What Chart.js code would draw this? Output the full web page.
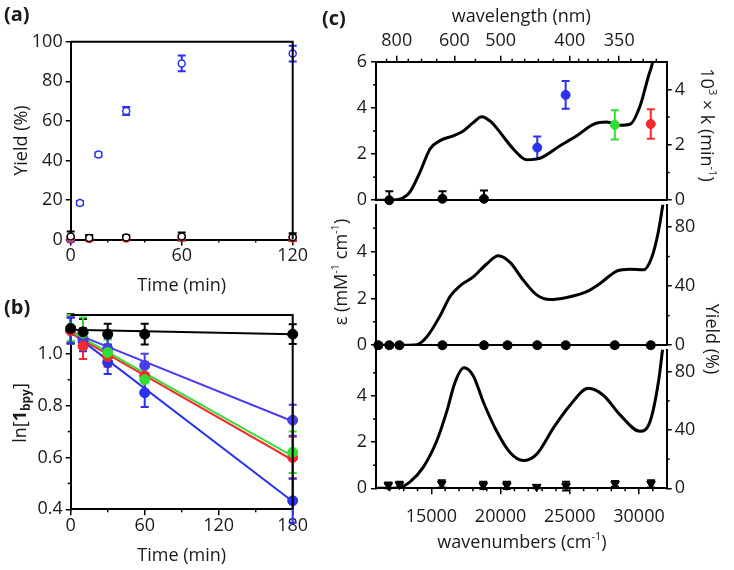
<!DOCTYPE html>
<html>
<head>
<meta charset="utf-8">
<script src="https://cdn.jsdelivr.net/npm/chart.js@4.4.0/dist/chart.umd.min.js"></script>
<style>
  body { margin: 0; background: #fff; width: 734px; height: 570px; position: relative; overflow: hidden; font-family: "Open Sans", sans-serif; color: #1a1a1a; }
  canvas { position: absolute; }
  .lbl { position: absolute; font-weight: bold; font-size: 20px; line-height: 1; }
  .rot { position: absolute; white-space: nowrap; font-size: 18px; line-height: 1; transform: translate(-50%, -50%) rotate(-90deg); }
  .rot.r { transform: translate(-50%, -50%) rotate(90deg); }
  .hz { position: absolute; white-space: nowrap; font-size: 18px; line-height: 1; transform: translate(-50%, -50%); }
  sup { font-size: 11px; vertical-align: 8px; line-height: 0; }
  sub { font-size: 12px; vertical-align: -4px; line-height: 0; }
</style>
</head>
<body>
<canvas id="cA" width="320" height="297" style="left:0;top:0"></canvas>
<canvas id="cB" width="320" height="280" style="left:0;top:290px"></canvas>
<canvas id="cC1" width="434" height="215" style="left:300px;top:0"></canvas>
<canvas id="cC2" width="434" height="170" style="left:300px;top:190px"></canvas>
<canvas id="cC3" width="434" height="235" style="left:300px;top:335px"></canvas>

<div class="lbl" style="left:4px;top:4px">(a)</div>
<div class="lbl" style="left:4px;top:297px">(b)</div>
<div class="lbl" style="left:322px;top:8px">(c)</div>
<div class="rot" style="left:19px;top:413px">ln[<b>1</b><sub><b>bpy</b></sub>]</div>
<div class="rot" style="left:340px;top:272px">ε (mM<sup>-1</sup> cm<sup>-1</sup>)</div>
<div class="rot r" style="left:708px;top:125px">10<sup>3</sup> × k (min<sup>-1</sup>)</div>
<div class="rot r" style="left:713px;top:339px">Yield (%)</div>
<div class="hz" style="left:522px;top:541px">wavenumbers (cm<sup>-1</sup>)</div>

<script>
// ---- (a) yield vs time
const timeABlue = [0, 5, 15, 30, 60, 120];
const yieldABlue = [0, 18.5, 43, 65, 89, 94];
const errABlue = [0.5, 1, 1, 2, 4, 4];
const timeA = [0, 10, 30, 60, 120];
const yieldABlack = [1.5, 0.8, 1, 1.5, 1.2];
const errABlack = [2.5, 1.5, 1.2, 2, 2];
const yieldARed = [0.5, 0.3, 0.5, 1, 0.5];
const errARed = [1, 1, 1, 1, 1];
const ticksATime = [0, 60, 120];
const minorATime = [20, 40, 80, 100];
const ticksAYield = [0, 20, 40, 60, 80, 100];

// ---- (b) ln[1bpy] vs time
const timeB = [0, 10, 30, 60, 180];
const lnBlack = [1.098, 1.085, 1.076, 1.076, 1.076];
const errBlack = [0.055, 0.05, 0.04, 0.04, 0.038];
const lnViolet = [1.09, 1.06, 1.02, 0.955, 0.744];
const errViolet = [0.05, 0.04, 0.04, 0.045, 0.06];
const lnBlue = [1.09, 1.05, 0.967, 0.85, 0.433];
const errBlue = [0.05, 0.04, 0.045, 0.055, 0.085];
const lnRed = [1.09, 1.03, 0.99, 0.915, 0.6];
const errRed = [0.05, 0.05, 0.04, 0.055, 0.08];
const lnGreen = [1.1, 1.08, 1.005, 0.9, 0.62];
const errGreen = [0.05, 0.06, 0.05, 0.06, 0.08];
const fitT = [0, 180];
const fitBlack = [1.093, 1.076];
const fitViolet = [1.085, 0.74];
const fitBlue = [1.085, 0.43];
const fitRed = [1.08, 0.59];
const fitGreen = [1.087, 0.605];
const ticksBTime = [0, 60, 120, 180];
const minorBTime = [30, 90, 150];
const ticksBLn = [0.4, 0.6, 0.8, 1.0];
const minorBLn = [0.5, 0.7, 0.9, 1.1];

// ---- (c) spectra (wavenumber, epsilon)
const wnTop = [11000, 12000, 12500, 13000, 13457, 14179, 14902, 15624, 16585, 17308, 18000, 18637, 19300, 19960, 20920, 21889, 22850, 24295, 25500, 26700, 27670, 28630, 29350, 30075, 30675, 30990, 31300];
const epsTop = [0, 0, 0.02, 0.12, 0.36, 1.22, 2.22, 2.58, 2.79, 3.0, 3.35, 3.62, 3.4, 2.94, 2.22, 1.75, 1.82, 2.36, 2.79, 3.29, 3.39, 3.25, 3.29, 4.08, 5.36, 6.0, 7.2];
const wnMid = [11000, 13000, 13939, 14663, 15624, 16347, 17069, 18030, 18994, 19837, 20682, 21642, 22610, 23572, 24778, 26223, 27185, 28390, 29350, 30313, 30920, 31400, 31720, 32000];
const epsMid = [0, 0, 0.02, 0.35, 1.25, 2.08, 2.54, 2.92, 3.47, 3.82, 3.54, 2.78, 2.15, 1.95, 2.04, 2.29, 2.64, 3.17, 3.25, 3.22, 3.75, 4.86, 6.0, 7.2];
const wnBot = [11000, 12494, 13457, 14418, 15386, 16108, 16708, 17350, 18030, 18753, 19720, 20682, 21642, 22610, 23810, 25017, 26340, 27424, 28630, 30075, 30797, 31400, 31720, 32000];
const epsBot = [0, 0, 0.28, 0.92, 2.05, 3.32, 4.59, 5.22, 4.87, 3.74, 2.47, 1.55, 1.2, 1.48, 2.61, 3.6, 4.33, 4.03, 3.18, 2.47, 2.89, 4.59, 6.1, 7.5];

// rate constants (top, right axis)
const kBlackWn = [11960, 15800, 18800];
const kBlack = [0, 0.05, 0.05];
const kBlackErr = [[0, 0.32], [0, 0.27], [0, 0.3]];
const kBlueWn = [22650, 24700];
const kBlue = [1.9, 3.8];
const kBlueErr = [0.4, 0.5];
const kGreenWn = [28250];
const kGreen = [2.72];
const kGreenErr = [0.53];
const kRedWn = [30850];
const kRed = [2.75];
const kRedErr = [0.53];

// yields (middle and bottom, right axis)
const yMidWn = [11170, 11960, 12690, 15800, 18800, 20500, 22650, 24700, 28250, 30850];
const yMid = [0, 0, 0, 0, 0, 0, 0, 0, 0, 0];
const yMidErr = [1.5, 1.5, 1.5, 1.5, 1.5, 1.5, 1.5, 1.5, 1.5, 1.5];
const yBotWn = [11890, 12690, 15750, 18750, 20450, 22610, 24730, 28270, 30870];
const yBot = [2, 2.5, 3, 2, 2, 1, 1.5, 3, 3];
const yBotErr = [2, 2, 2.5, 2.5, 2.5, 1, 3, 2, 2.5];

// axes of (c)
const wlMajor = [800, 600, 500, 400, 350];
const wlMinor = [850, 750, 700, 650, 550, 480, 460, 440, 420, 390, 380, 370, 360, 340, 330, 320];
const wnMajor = [15000, 20000, 25000, 30000];
const wnMinor = [12000, 13000, 14000, 16000, 17000, 18000, 19000, 21000, 22000, 23000, 24000, 26000, 27000, 28000, 29000, 31000];
const epsTicksTop = [0, 2, 4, 6];
const epsTicks = [0, 2, 4];
const epsMinor = [1, 3, 5];
const kTicks = [0, 2, 4];
const kMinor = [1, 3];
const yieldTicks = [0, 40, 80];
const yieldMinor = [20, 60];

Chart.defaults.font.family = "'Open Sans', sans-serif";
Chart.defaults.font.size = 18;
Chart.defaults.color = "#1a1a1a";
Chart.defaults.animation = false;
Chart.defaults.plugins.legend.display = false;
Chart.defaults.plugins.tooltip.enabled = false;

const BLUE = "#2a32ee", VIOLET = "#4a3cf0", RED = "#f22a2a", GREEN = "#33dd33";

// vertical error bars, drawn under the markers
const errorBars = {
  id: "errorBars",
  beforeDatasetsDraw(chart) {
    const ctx = chart.ctx;
    chart.data.datasets.forEach((ds, i) => {
      if (!ds.err) return;
      const meta = chart.getDatasetMeta(i);
      const ys = chart.scales[meta.yAxisID];
      ctx.save();
      ctx.strokeStyle = ds.borderColor;
      ctx.lineWidth = 2;
      meta.data.forEach((p, j) => {
        const e = ds.err[j];
        const lo = Array.isArray(e) ? e[0] : e;
        const hi = Array.isArray(e) ? e[1] : e;
        const v = ds.data[j].y;
        const y1 = ys.getPixelForValue(v - lo), y2 = ys.getPixelForValue(v + hi);
        ctx.beginPath();
        ctx.moveTo(p.x, y1); ctx.lineTo(p.x, y2);
        if (lo) { ctx.moveTo(p.x - 4, y1); ctx.lineTo(p.x + 4, y1); }
        if (hi) { ctx.moveTo(p.x - 4, y2); ctx.lineTo(p.x + 4, y2); }
        ctx.stroke();
      });
      ctx.restore();
    });
  }
};

// short unlabelled ticks
const minorTicks = {
  id: "minorTicks",
  afterDraw(chart, args, opts) {
    const ctx = chart.ctx, a = chart.chartArea;
    ctx.save();
    ctx.strokeStyle = "#000";
    ctx.lineWidth = 1.5;
    (opts.list || []).forEach(m => {
      const s = chart.scales[m.axis];
      m.values.forEach(v => {
        const p = s.getPixelForValue(v);
        ctx.beginPath();
        if (s.position === "left") { ctx.moveTo(a.left, p); ctx.lineTo(a.left - 3, p); }
        else if (s.position === "right") { ctx.moveTo(a.right, p); ctx.lineTo(a.right + 3, p); }
        else if (s.position === "top") { ctx.moveTo(p, a.top); ctx.lineTo(p, a.top - 3); }
        else { ctx.moveTo(p, a.bottom); ctx.lineTo(p, a.bottom + 3); }
        ctx.stroke();
      });
    });
    ctx.restore();
  }
};

// top and right box lines for (a) and (b)
const frame = {
  id: "frame",
  afterDraw(chart, args, opts) {
    if (!opts.on) return;
    const ctx = chart.ctx, a = chart.chartArea;
    ctx.save();
    ctx.strokeStyle = "#000";
    ctx.lineWidth = 2;
    ctx.beginPath();
    ctx.moveTo(a.left, a.top); ctx.lineTo(a.right, a.top); ctx.lineTo(a.right, a.bottom);
    ctx.stroke();
    ctx.restore();
  }
};

function xy(xs, ys) { return xs.map((x, i) => ({ x, y: ys[i] })); }

function marks(xs, ys, err, color, extra) {
  return Object.assign({
    data: xy(xs, ys), err, borderColor: color, backgroundColor: color,
    pointRadius: 5, pointBorderWidth: 1, showLine: false, clip: false
  }, extra || {});
}

function line(xs, ys, color, width, extra) {
  return Object.assign({
    data: xy(xs, ys), borderColor: color, borderWidth: width, pointRadius: 0, showLine: true
  }, extra || {});
}

function axis(pos, min, max, major, size, pad, fmt) {
  const horiz = pos === "top" || pos === "bottom";
  return {
    type: "linear", position: pos, min, max,
    afterBuildTicks: s => { s.ticks = major.map(v => ({ value: v })); },
    afterFit: s => { if (horiz) s.height = size; else s.width = size; },
    ticks: { display: major.length > 0, autoSkip: false, maxRotation: 0, padding: pad, callback: fmt || (v => String(v)) },
    grid: { drawOnChartArea: false, drawTicks: major.length > 0, color: "#000", lineWidth: 1.5, tickLength: horiz ? 6 : 5 },
    border: { color: "#000", width: 2 }
  };
}

const plugs = [errorBars, minorTicks, frame];

// ---- (a)
const axAx = axis("bottom", 0, 120, ticksATime, 57.5, 0);
axAx.title = { display: true, text: "Time (min)", padding: { top: 0, bottom: 0 } };
const axAy = axis("left", 0, 100, ticksAYield, 70.7, 3);
axAy.title = { display: true, text: "Yield (%)", padding: { top: 11, bottom: 0 } };

new Chart(document.getElementById("cA"), {
  type: "scatter",
  data: {
    datasets: [
      marks(timeA, yieldABlack, errABlack, "#000", { pointRadius: 3.5, pointBorderWidth: 1.5, backgroundColor: "#fff" }),
      marks(timeA, yieldARed, errARed, RED, { pointRadius: 3.5, pointBorderWidth: 1.5, backgroundColor: "#fff" }),
      marks(timeABlue, yieldABlue, errABlue, BLUE, { pointRadius: 3.5, pointBorderWidth: 1.5, backgroundColor: "#fff" })
    ]
  },
  options: {
    responsive: false, devicePixelRatio: 1,
    layout: { padding: { top: 41.7, right: 27.3, left: 0, bottom: 0 } },
    scales: { x: axAx, y: axAy },
    plugins: { frame: { on: true }, minorTicks: { list: [{ axis: "x", values: minorATime }] } }
  },
  plugins: plugs
});

// ---- (b)
const axBx = axis("bottom", 0, 180, ticksBTime, 60.7, 0);
axBx.title = { display: true, text: "Time (min)", padding: { top: 0, bottom: 3 } };
const axBy = axis("left", 0.4, 1.15, ticksBLn, 70.7, 3, v => v.toFixed(1));

new Chart(document.getElementById("cB"), {
  type: "scatter",
  data: {
    datasets: [
      marks(timeB, lnBlack, errBlack, "#000"),
      marks(timeB, lnGreen, errGreen, GREEN),
      marks(timeB, lnRed, errRed, RED),
      marks(timeB, lnViolet, errViolet, VIOLET),
      marks(timeB, lnBlue, errBlue, BLUE),
      line(fitT, fitBlack, "#000", 2),
      line(fitT, fitGreen, GREEN, 2),
      line(fitT, fitRed, RED, 2),
      line(fitT, fitViolet, VIOLET, 2),
      line(fitT, fitBlue, BLUE, 2)
    ]
  },
  options: {
    responsive: false, devicePixelRatio: 1,
    layout: { padding: { top: 25, right: 27.3, left: 0, bottom: 0 } },
    scales: { x: axBx, y: axBy },
    plugins: {
      frame: { on: true },
      minorTicks: { list: [{ axis: "x", values: minorBTime }, { axis: "y", values: minorBLn }] }
    }
  },
  plugins: plugs
});

// ---- (c) top: spectrum + rate constants
const axC1x2 = axis("top", 11000, 32000, wlMajor.map(w => 1e7 / w), 61.7, 4, v => String(Math.round(1e7 / v)));
axC1x2.title = { display: true, text: "wavelength (nm)", padding: { top: 6, bottom: 0 } };

new Chart(document.getElementById("cC1"), {
  type: "scatter",
  data: {
    datasets: [
      marks(kBlackWn, kBlack, kBlackErr, "#000", { yAxisID: "y2", pointRadius: 4.5 }),
      marks(kBlueWn, kBlue, kBlueErr, BLUE, { yAxisID: "y2", pointRadius: 4.5 }),
      marks(kGreenWn, kGreen, kGreenErr, GREEN, { yAxisID: "y2", pointRadius: 4.5 }),
      marks(kRedWn, kRed, kRedErr, RED, { yAxisID: "y2", pointRadius: 4.5 }),
      line(wnTop, epsTop, "#000", 3, { cubicInterpolationMode: "monotone" })
    ]
  },
  options: {
    responsive: false, devicePixelRatio: 1,
    layout: { padding: 0 },
    scales: {
      x: axis("bottom", 11000, 32000, [], 13.3, 0),
      x2: axC1x2,
      y: axis("left", 0, 6, epsTicksTop, 76, 4),
      y2: axis("right", 0, 5, kTicks, 67.3, 3)
    },
    plugins: {
      minorTicks: { list: [
        { axis: "x2", values: wlMinor.map(w => 1e7 / w) },
        { axis: "y", values: epsMinor },
        { axis: "y2", values: kMinor }
      ] }
    }
  },
  plugins: plugs
});

// ---- (c) middle
new Chart(document.getElementById("cC2"), {
  type: "scatter",
  data: {
    datasets: [
      marks(yMidWn, yMid, yMidErr, "#000", { yAxisID: "y2", pointRadius: 4.5 }),
      line(wnMid, epsMid, "#000", 3, { cubicInterpolationMode: "monotone" })
    ]
  },
  options: {
    responsive: false, devicePixelRatio: 1,
    layout: { padding: { top: 11.7, left: 0, right: 0, bottom: 0 } },
    scales: {
      x: axis("bottom", 11000, 32000, [], 13.3, 0),
      y: axis("left", 0, 6, epsTicks, 76, 4),
      y2: axis("right", 0, 95, yieldTicks, 67.3, 3)
    },
    plugins: {
      minorTicks: { list: [{ axis: "y", values: epsMinor }, { axis: "y2", values: yieldMinor }] }
    }
  },
  plugins: plugs
});

// ---- (c) bottom
new Chart(document.getElementById("cC3"), {
  type: "scatter",
  data: {
    datasets: [
      marks(yBotWn, yBot, yBotErr, "#000", { yAxisID: "y2", pointRadius: 5, pointStyle: "triangle", rotation: 180 }),
      line(wnBot, epsBot, "#000", 3, { cubicInterpolationMode: "monotone" })
    ]
  },
  options: {
    responsive: false, devicePixelRatio: 1,
    layout: { padding: { top: 11.7, left: 0, right: 0, bottom: 0 } },
    scales: {
      x: axis("bottom", 11000, 32000, wnMajor, 81.7, 12),
      y: axis("left", 0, 6, epsTicks, 76, 4),
      y2: axis("right", 0, 95, yieldTicks, 67.3, 3)
    },
    plugins: {
      minorTicks: { list: [
        { axis: "x", values: wnMinor },
        { axis: "y", values: epsMinor },
        { axis: "y2", values: yieldMinor }
      ] }
    }
  },
  plugins: plugs
});
</script>
</body>
</html>
